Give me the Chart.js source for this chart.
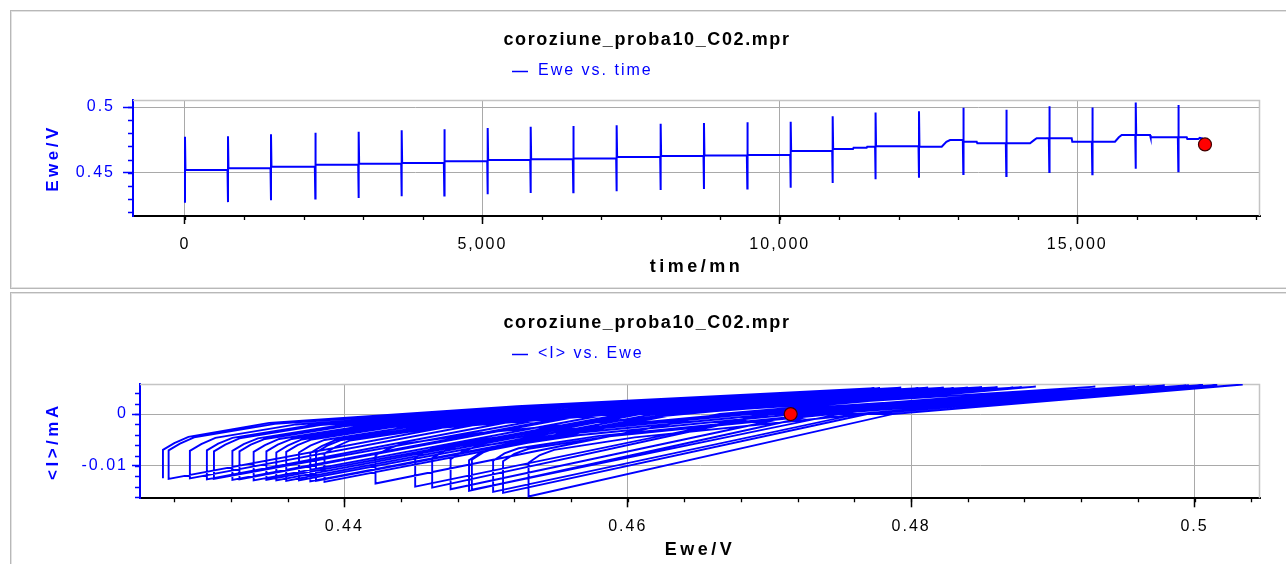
<!DOCTYPE html>
<html><head><meta charset="utf-8">
<script src="https://cdn.jsdelivr.net/npm/chart.js@4.4.1/dist/chart.umd.min.js"></script>
<style>
html,body{margin:0;padding:0;background:#fff;width:1286px;height:564px;overflow:hidden;position:relative;}
.box{position:absolute;border:1px solid #b8b8b8;box-shadow:inset 0 0 0 1px #e2e2e2;background:#fff;}
#box1{left:10px;top:10px;width:1300px;height:277px;}
#box2{left:10px;top:292px;width:1300px;height:300px;}
canvas{position:absolute;left:0;}
#c1{top:0}
#c2{top:290px}
</style></head><body>
<div class="box" id="box1"></div><div class="box" id="box2"></div>
<canvas id="c1" width="1286" height="290"></canvas>
<canvas id="c2" width="1286" height="274"></canvas>
<script>
// ---------- texts ----------
const chartTitle = 'coroziune_proba10_C02.mpr';
const legendTop = 'Ewe vs. time';
const legendBottom = '<I> vs. Ewe';
const xTitleTop = 'time/mn', yTitleTop = 'Ewe/V';
const xTitleBottom = 'Ewe/V', yTitleBottom = '<I>/mA';

// ---------- tick labels ----------
const xTicksTop = [0, 5000, 10000, 15000];
const xLabelsTop = ['0', '5,000', '10,000', '15,000'];
const yTicksTop = [0.45, 0.5];
const yLabelsTop = ['0.45', '0.5'];
const xTicksBottom = [0.44, 0.46, 0.48, 0.5];
const xLabelsBottom = ['0.44', '0.46', '0.48', '0.5'];
const yTicksBottom = [-0.01, 0];
const yLabelsBottom = ['-0.01', '0'];

// ---------- polarisation sweeps (one per spike) ----------
const spikeTime = [0, 723, 1446, 2191, 2920, 3643, 4360, 5089, 5812, 6528, 7257, 7997, 8725, 9454, 10183, 10889, 11610, 12340, 13085, 13808, 14531, 15254, 15984, 16700];
const loopEmin = [0.4272, 0.4276, 0.4291, 0.4303, 0.4308, 0.4321, 0.4326, 0.4336, 0.4345, 0.4352, 0.4359, 0.4368, 0.4376, 0.4380, 0.4386, 0.4422, 0.4450, 0.4462, 0.4490, 0.4475, 0.4505, 0.4488, 0.4530, 0.4512];
const loopEmax = [0.4774, 0.4778, 0.4793, 0.4805, 0.4812, 0.4823, 0.4830, 0.4840, 0.4850, 0.4856, 0.4861, 0.4872, 0.4878, 0.4884, 0.4888, 0.4930, 0.4958, 0.4968, 0.4994, 0.4979, 0.5006, 0.4996, 0.5034, 0.5016];
const loopIcorner = [-0.0124,-0.0125,-0.0124,-0.0126,-0.0125,-0.0127,-0.0126,-0.0128,-0.0127,-0.0128,-0.0129,-0.0128,-0.0130,-0.0129,-0.0131,-0.0134,-0.0140,-0.0142,-0.0146,-0.0145,-0.0150,-0.0148,-0.0159,-0.0152];
const loopIknee = [-0.0069,-0.0070,-0.0071,-0.0070,-0.0072,-0.0071,-0.0072,-0.0073,-0.0072,-0.0074,-0.0073,-0.0074,-0.0075,-0.0074,-0.0076,-0.0080,-0.0084,-0.0085,-0.0088,-0.0087,-0.0090,-0.0089,-0.0094,-0.0091];
const loopIcurve = [-0.0056,-0.0057,-0.0058,-0.0057,-0.0059,-0.0058,-0.0059,-0.0060,-0.0059,-0.0061,-0.0060,-0.0061,-0.0062,-0.0061,-0.0063,-0.0068,-0.0071,-0.0072,-0.0074,-0.0073,-0.0076,-0.0075,-0.0079,-0.0077];
const loopIshoulder = [-0.0044,-0.0045,-0.0046,-0.0046,-0.0047,-0.0047,-0.0048,-0.0048,-0.0048,-0.0049,-0.0049,-0.0050,-0.0050,-0.0050,-0.0051,-0.0058,-0.0061,-0.0062,-0.0064,-0.0063,-0.0066,-0.0065,-0.0069,-0.0067];
const loopIearly = [-0.0017,-0.0019,-0.0020,-0.0021,-0.0021,-0.0022,-0.0023,-0.0024,-0.0024,-0.0025,-0.0025,-0.0026,-0.0027,-0.0027,-0.0028,-0.0036,-0.0038,-0.0039,-0.0041,-0.0040,-0.0042,-0.0041,-0.0045,-0.0043];
const loopImid = [0.0015,0.0014,0.0014,0.0013,0.0013,0.0012,0.0012,0.0012,0.0011,0.0011,0.0011,0.0010,0.0010,0.0010,0.0009,0.0008,0.0007,0.0007,0.0006,0.0006,0.0005,0.0005,0.0004,0.0005];
const loopIend = [0.0050,0.0050,0.0051,0.0050,0.0051,0.0051,0.0050,0.0051,0.0052,0.0051,0.0052,0.0051,0.0052,0.0052,0.0053,0.0053,0.0054,0.0054,0.0055,0.0055,0.0056,0.0055,0.0057,0.0056];
// potential offsets (V above Emin) where the sweep currents above were read
const curveOffsetE = 0.0008, shoulderOffsetE = 0.0018, earlyOffsetE = 0.0075, midOffsetE = 0.025;

// ---------- open-circuit rest periods (I = 0) ----------
const baseTime = [8,715, 731,1438, 1454,2183, 2199,2912, 2928,3635, 3651,4352, 4368,5081, 5097,5804, 5820,6520, 6536,7249, 7265,7989, 8005,8717, 8733,9446, 9462,10175, 10191,10881,
  10897,11230,11240,11460,11470,11602, 11618,12332, 12348,12722,12800,12862,13077, 13093,13310,13320,13800, 13816,14207,14280,14319,14523,
  14539,14907,14917,15246, 15262,15635,15700,15748,15976, 15992,16224,16234,16692, 16708,16841,16851,17036,17060,17100];
const baseEwe = [0.4521,0.4521, 0.4533,0.4533, 0.4546,0.4546, 0.4561,0.4561, 0.4569,0.4569, 0.4574,0.4574, 0.4587,0.4587, 0.4597,0.4597, 0.4602,0.4602, 0.4609,0.4609, 0.4619,0.4619, 0.4627,0.4627, 0.4630,0.4630, 0.4635,0.4635, 0.4665,0.4665,
  0.4680,0.4680,0.4690,0.4690,0.4698,0.4698, 0.4701,0.4701, 0.4698,0.4698,0.4735,0.4749,0.4749, 0.4736,0.4736,0.4724,0.4724, 0.4724,0.4724,0.4750,0.4762,0.4762,
  0.4762,0.4762,0.4736,0.4736, 0.4736,0.4736,0.4770,0.4787,0.4787, 0.4787,0.4787,0.4769,0.4769, 0.4769,0.4769,0.4757,0.4757,0.4765,0.4762];
const lastTime = 17148, lastEwe = 0.4715, lastI = 0;

// ---------- build series ----------
const topLine = [];
const botLine = [];
for (let k = 0; k < spikeTime.length; k++) {
  const t0 = spikeTime[k];
  const t1 = k + 1 < spikeTime.length ? spikeTime[k + 1] : Infinity;
  topLine.push({x: t0, y: loopEmin[k]}, {x: t0, y: loopEmax[k]});
  const e0 = loopEmin[k];
  botLine.push({x: e0, y: loopIcorner[k]}, {x: e0, y: loopIknee[k]},
    {x: e0 + curveOffsetE, y: loopIcurve[k]}, {x: e0 + shoulderOffsetE, y: loopIshoulder[k]},
    {x: e0 + earlyOffsetE, y: loopIearly[k]}, {x: e0 + midOffsetE, y: loopImid[k]},
    {x: loopEmax[k], y: loopIend[k]});
  for (let j = 0; j < baseTime.length; j++) {
    if (baseTime[j] > t0 && baseTime[j] < t1) {
      topLine.push({x: baseTime[j], y: baseEwe[j]});
      botLine.push({x: baseEwe[j], y: 0});
    }
  }
}
topLine.push({x: lastTime, y: lastEwe});
botLine.push({x: lastEwe, y: lastI});

// ---------- drawing ----------
const FONT = "'Liberation Sans', Arial, sans-serif";
const BLUE = '#0000ff';
const GRID = '#a9a9a9';
Chart.defaults.font.family = FONT;

function range(a, b, s) { const r = []; for (let v = a; v <= b + s / 1000; v += s) r.push(+v.toFixed(6)); return r; }

const decor = {
  id: 'decor',
  beforeDraw(chart) { chart.ctx.letterSpacing = '2px'; },
  beforeDatasetsDraw(chart) {
    const {ctx, chartArea: a} = chart;
    ctx.save();
    ctx.strokeStyle = '#c4c4c4'; ctx.lineWidth = 1.5;
    ctx.beginPath(); ctx.moveTo(a.left, a.top + 0.5); ctx.lineTo(a.right - 0.5, a.top + 0.5); ctx.lineTo(a.right - 0.5, a.bottom); ctx.stroke();
    ctx.restore();
  },
  afterDraw(chart, args, o) {
    const {ctx, chartArea: a, scales} = chart;
    ctx.save();
    ctx.lineWidth = 1.3;
    ctx.strokeStyle = '#000';
    ctx.beginPath();
    o.minorX.forEach(v => { const p = Math.round(scales.x.getPixelForValue(v)) + 0.5; if (p >= a.left && p <= a.right) { ctx.moveTo(p, a.bottom); ctx.lineTo(p, a.bottom + o.minorXLen); } });
    ctx.stroke();
    ctx.strokeStyle = BLUE;
    ctx.beginPath();
    o.minorY.forEach(v => { const p = Math.round(scales.y.getPixelForValue(v)) + 0.5; if (p >= a.top && p <= a.bottom) { ctx.moveTo(a.left - o.minorYLen, p); ctx.lineTo(a.left, p); } });
    ctx.stroke();
    // title
    ctx.textAlign = 'center'; ctx.textBaseline = 'middle';
    ctx.fillStyle = '#000'; ctx.font = 'bold 18px ' + FONT; ctx.letterSpacing = '1.6px';
    ctx.fillText(o.title, 647, o.titleY);
    // legend
    ctx.strokeStyle = BLUE; ctx.lineWidth = 1.5;
    ctx.beginPath(); ctx.moveTo(512, o.legendY + 0.5); ctx.lineTo(528, o.legendY + 0.5); ctx.stroke();
    ctx.fillStyle = BLUE; ctx.font = '16px ' + FONT; ctx.letterSpacing = '2px'; ctx.textAlign = 'left';
    ctx.fillText(o.legend, 538, o.legendY);
    // axis titles
    ctx.textAlign = 'center';
    ctx.fillStyle = '#000'; ctx.font = 'bold 18px ' + FONT; ctx.letterSpacing = '3.5px';
    ctx.fillText(o.xTitle, (a.left + a.right) / 2, o.xTitleY);
    ctx.translate(53, (a.top + a.bottom) / 2); ctx.rotate(-Math.PI / 2);
    ctx.fillStyle = BLUE; ctx.font = 'bold 17px ' + FONT; ctx.letterSpacing = '3.5px';
    ctx.fillText(o.yTitle, 0, 0);
    ctx.restore();
  }
};

function axisX(min, max, ticks, labels, height, pad, tickLen) {
  return {
    type: 'linear', min, max,
    afterFit(s) { s.height = height; },
    afterBuildTicks(s) { s.ticks = ticks.map(v => ({value: v})); },
    ticks: {callback: (v, i) => labels[i], color: '#000', font: {size: 16, family: FONT}, padding: pad, autoSkip: false, maxRotation: 0},
    grid: {color: GRID, lineWidth: 1, tickLength: tickLen, tickColor: '#000', tickWidth: 1.5},
    border: {color: '#000', width: 2}
  };
}
function axisY(min, max, ticks, labels, width, pad, tickLen) {
  return {
    type: 'linear', min, max,
    afterFit(s) { s.width = width; },
    afterBuildTicks(s) { s.ticks = ticks.map(v => ({value: v})); },
    ticks: {callback: (v, i) => labels[i], color: BLUE, font: {size: 16, family: FONT}, padding: pad, autoSkip: false},
    grid: {color: GRID, lineWidth: 1, tickLength: tickLen, tickColor: BLUE, tickWidth: 1.5},
    border: {color: BLUE, width: 2}
  };
}

new Chart(document.getElementById('c1'), {
  type: 'scatter',
  data: {datasets: [
    {data: [{x: lastTime, y: lastEwe}], pointRadius: 6.5, pointHoverRadius: 6.5, backgroundColor: '#ff0000', borderColor: '#400000', borderWidth: 1.2, order: 1},
    {data: topLine, showLine: true, borderColor: BLUE, borderWidth: 2, pointRadius: 0, order: 2}
  ]},
  options: {
    responsive: false, animation: false, events: [],
    layout: {padding: {left: 0, right: 26, top: 100, bottom: 0}},
    plugins: {legend: {display: false}, tooltip: {enabled: false},
      decor: {title: chartTitle, titleY: 40, legend: legendTop, legendY: 71, xTitle: xTitleTop, xTitleY: 267, yTitle: yTitleTop,
        minorX: range(0, 18000, 1000), minorXLen: 4, minorY: range(0.42, 0.5, 0.01), minorYLen: 5}},
    scales: {
      x: axisX(-874, 18073, xTicksTop, xLabelsTop, 74, 11, 8),
      y: axisY(0.41705, 0.50533, yTicksTop, yLabelsTop, 133, 8, 10)
    }
  },
  plugins: [decor]
});

new Chart(document.getElementById('c2'), {
  type: 'scatter',
  data: {datasets: [
    {data: [{x: lastEwe, y: lastI}], pointRadius: 6.5, pointHoverRadius: 6.5, backgroundColor: '#ff0000', borderColor: '#400000', borderWidth: 1.2, order: 1},
    {data: botLine, showLine: true, borderColor: BLUE, borderWidth: 1.9, pointRadius: 0, order: 2}
  ]},
  options: {
    responsive: false, animation: false, events: [],
    layout: {padding: {left: 0, right: 26, top: 94, bottom: 0}},
    plugins: {legend: {display: false}, tooltip: {enabled: false},
      decor: {title: chartTitle, titleY: 33, legend: legendBottom, legendY: 64, xTitle: xTitleBottom, xTitleY: 260, yTitle: yTitleBottom,
        minorX: range(0.428, 0.504, 0.004), minorXLen: 4, minorY: range(-0.016, 0.004, 0.002), minorYLen: 5}},
    scales: {
      x: axisX(0.42558, 0.50462, xTicksBottom, xLabelsBottom, 65.7, 10, 9),
      y: axisY(-0.01625, 0.0058, yTicksBottom, yLabelsBottom, 140, 4, 8)
    }
  },
  plugins: [decor]
});
</script>
</body></html>
